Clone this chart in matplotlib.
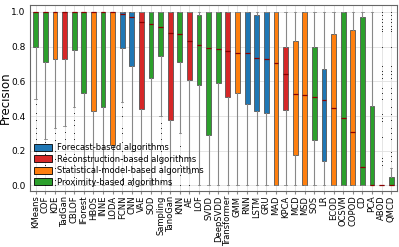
import matplotlib
matplotlib.use("Agg")
import matplotlib.pyplot as plt
from matplotlib.patches import Patch

# algorithm names, in plotted order
names = ["KMeans", "COF", "KDE", "TadGan", "CBLOF", "IForest", "HBOS", "INNE", "LODA",
         "FCNN", "CNN", "VAE", "SOD", "Sampling", "TanoGan", "KNN", "AE", "LOF", "SVDD",
         "DeepSVDD", "Transformer", "GMM", "RNN", "LSTM", "GRU", "MAD", "KPCA", "MCD",
         "MSD", "SOS", "LR", "ECOD", "OCSVM", "COPOD", "CD", "PCA", "ABOD", "QMCD"]

# F = forecast, R = reconstruction, S = statistical model, P = proximity
groups = ["P", "P", "S", "R", "P", "P", "S", "P", "S",
          "F", "F", "R", "P", "P", "R", "P", "R", "P", "P",
          "P", "R", "S", "F", "F", "F", "S", "R", "S",
          "S", "P", "F", "S", "P", "S", "P", "P", "P", "P"]

q3 = [1, 1, 1, 1, 1, 1, 1, 1, 1,
      1, 1, 1, 1, 1, 1, 1, 1, 0.98, 1,
      1, 1, 1, 1, 0.98, 1, 1, 0.80, 0.83,
      1, 0.80, 0.67, 0.875, 1, 0.895, 0.97, 0.46, 0, 0.05]

medians = [1, 1, 1, 1, 1, 1, 1, 1, 1,
           0.99, 0.97, 0.94, 0.93, 0.915, 0.877, 0.87, 0.83, 0.81, 0.79,
           0.785, 0.773, 0.763, 0.763, 0.733, 0.73, 0.705, 0.642, 0.528,
           0.52, 0.51, 0.49, 0.445, 0.388, 0.31, 0.104, 0, 0, 0]

q1 = [0.80, 0.71, 0.73, 0.73, 0.78, 0.53, 0.43, 0.45, 0.235,
      0.79, 0.69, 0.44, 0.62, 0.745, 0.375, 0.71, 0.61, 0.578, 0.29,
      0.593, 0.51, 0.53, 0.468, 0.43, 0.417, 0, 0.432, 0.176,
      0, 0.26, 0.142, 0, 0, 0, 0, 0, 0, 0]

whisker_low = [0.50, 0.27, 0.33, 0.34, 0.45, 0, 0, 0, 0,
               0.48, 0.20, 0, 0, 0.40, 0, 0.30, 0.074, 0, 0,
               0, 0, 0, 0, 0, 0, 0, 0, 0,
               0, 0, 0, 0, 0, 0, 0, 0, 0, 0]

whisker_high = [1] * 36 + [0, 0.1]

outliers = {
    "KMeans": [0.47, 0.42, 0.38, 0.33, 0.3, 0.27, 0.2, 0.02],
    "COF": [0.25, 0.21, 0.18, 0.12, 0.08, 0.03, 0.0],
    "KDE": [0.3, 0.26, 0.2, 0.15, 0.1, 0.03, 0.0],
    "TadGan": [0.31, 0.27, 0.22, 0.18, 0.1, 0.02],
    "CBLOF": [0.42, 0.38, 0.35, 0.3, 0.27, 0.22, 0.18, 0.12, 0.05, 0.0],
    "FCNN": [0.45, 0.4, 0.33, 0.3, 0.25, 0.2, 0.15, 0.1, 0.04, 0.0],
    "CNN": [0.16, 0.1, 0.03, 0.0],
    "Sampling": [0.36, 0.33, 0.3, 0.27, 0.2, 0.15, 0.1, 0.02],
    "KNN": [0.23, 0.17, 0.12, 0.06, 0.0],
    "AE": [0.0],
    "ABOD": [1.0, 0.98, 0.96, 0.94, 0.92, 0.9, 0.89, 0.8, 0.69, 0.66, 0.64, 0.62,
             0.56, 0.53, 0.5, 0.41, 0.39, 0.37, 0.28, 0.16, 0.14, 0.12],
    "QMCD": [1.0, 0.98, 0.96, 0.94, 0.92, 0.9, 0.89, 0.8, 0.69, 0.66, 0.64, 0.62,
             0.56, 0.53, 0.5, 0.45, 0.41, 0.38, 0.33, 0.3, 0.27, 0.19, 0.17, 0.14],
}

colors = {"F": "#1f77b4", "R": "#d62728", "S": "#ff7f0e", "P": "#2ca02c"}
legend_labels = {"F": "Forecast-based algorithms",
                 "R": "Reconstruction-based algorithms",
                 "S": "Statistical-model-based algorithms",
                 "P": "Proximity-based algorithms"}

# build the box stats for bxp
stats = []
for i, name in enumerate(names):
    stats.append({
        "label": name,
        "q1": q1[i],
        "med": medians[i],
        "q3": q3[i],
        "whislo": whisker_low[i],
        "whishi": whisker_high[i],
        "fliers": outliers.get(name, []),
    })

fig = plt.figure(figsize=(3.99, 2.47), dpi=100)
ax = fig.add_axes([0.075, 0.228, 0.92, 0.752])

ax.grid(True, color="#e0e0e0", linewidth=0.6)
ax.set_axisbelow(True)

bp = ax.bxp(stats, positions=range(len(names)), widths=0.5, patch_artist=True,
            boxprops=dict(linewidth=0.6, edgecolor="#555555"),
            medianprops=dict(color="#8b0000", linewidth=0.9),
            whiskerprops=dict(color="#888888", linewidth=0.8),
            capprops=dict(color="#888888", linewidth=0.6),
            flierprops=dict(marker=".", markersize=1.2, markeredgewidth=0,
                            markerfacecolor="black"))

for box, g in zip(bp["boxes"], groups):
    box.set_facecolor(colors[g])

ax.set_xlim(-0.6, len(names) - 0.4)
ax.set_ylim(-0.03, 1.04)
ax.set_xticks(range(len(names)))
ax.set_xticklabels(names, rotation=90, fontsize=6)
ax.set_yticks([0, 0.2, 0.4, 0.6, 0.8, 1.0])
ax.set_yticklabels(["0.0", "0.2", "0.4", "0.6", "0.8", "1.0"])
ax.tick_params(axis="y", labelsize=6.5, length=0, pad=3)
ax.tick_params(axis="x", length=2, pad=1.5, color="#888888")
ax.set_ylabel("Precision", fontsize=8.5)
ax.yaxis.set_label_coords(-0.048, 0.5)

for spine in ax.spines.values():
    spine.set_color("#666666")
    spine.set_linewidth(0.8)

handles = [Patch(facecolor=colors[k], edgecolor="black", linewidth=0.6, label=legend_labels[k])
           for k in ["F", "R", "S", "P"]]
ax.legend(handles=handles, loc="lower left", fontsize=6, frameon=False,
          handlelength=2.2, handleheight=0.9, labelspacing=0.3,
          borderaxespad=0.1, handletextpad=0.5)

fig.savefig("out.png", dpi=100)
